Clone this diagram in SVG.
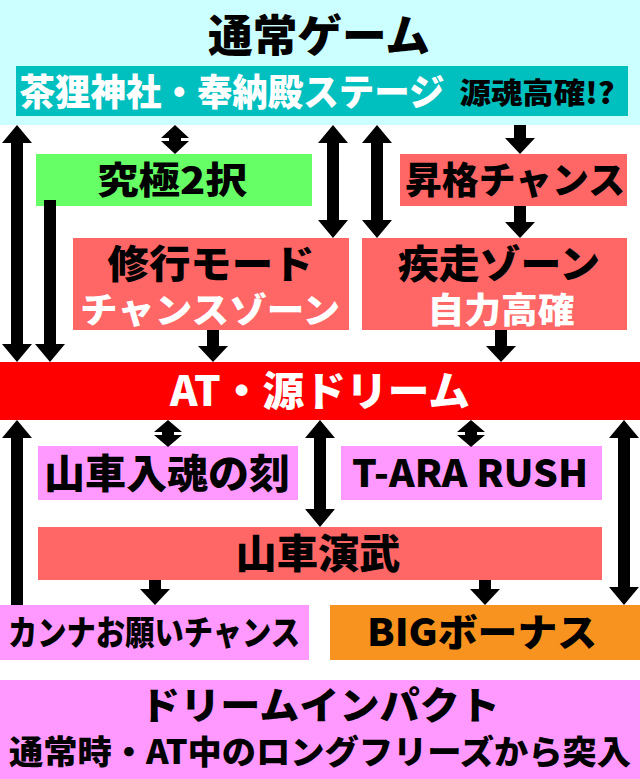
<svg xmlns="http://www.w3.org/2000/svg" width="640" height="779" viewBox="0 0 640 779">
<defs>
<style>
text{font-family:"Noto Sans CJK JP","Noto Sans",sans-serif;font-weight:900;text-anchor:middle}
.w{fill:#fff}.k{fill:#000}
</style>
</defs>
<rect width="640" height="779" fill="#fff"/>
<rect width="640" height="125" fill="#ccffff"/>
<g id="n-normal"><text x="319" y="52" font-size="44" class="k" textLength="222" lengthAdjust="spacingAndGlyphs">通常ゲーム</text></g>
<g id="n-stage"><rect x="16" y="66" width="612" height="50" fill="#00bfbf"/>
<text x="232" y="106" font-size="37" class="w" textLength="425" lengthAdjust="spacingAndGlyphs">茶狸神社・奉納殿ステージ</text>
<text x="537" y="104" font-size="29" class="k" textLength="155" lengthAdjust="spacingAndGlyphs">源魂高確!?</text></g>
<g id="n-kyuukyoku"><rect x="36" y="154" width="276" height="52" fill="#66ff66"/><text x="172" y="194" font-size="37" class="k" textLength="150" lengthAdjust="spacingAndGlyphs">究極2択</text></g>
<g id="n-shoukaku"><rect x="400" y="154" width="227" height="52" fill="#ff6666"/><text x="515" y="194" font-size="37" class="k" textLength="220" lengthAdjust="spacingAndGlyphs">昇格チャンス</text></g>
<g id="n-shugyou"><rect x="73" y="238" width="276" height="92" fill="#ff6666"/><text x="211" y="278" font-size="39" class="k" textLength="207" lengthAdjust="spacingAndGlyphs">修行モード</text><text x="210" y="323" font-size="35" class="w" textLength="260" lengthAdjust="spacingAndGlyphs">チャンスゾーン</text></g>
<g id="n-shissou"><rect x="362" y="238" width="265" height="92" fill="#ff6666"/><text x="499" y="278" font-size="39" class="k" textLength="202" lengthAdjust="spacingAndGlyphs">疾走ゾーン</text><text x="501" y="323" font-size="35" class="w" textLength="147" lengthAdjust="spacingAndGlyphs">自力高確</text></g>
<g id="n-at"><rect x="0" y="362" width="640" height="58" fill="#ff0000"/><text x="320" y="406" font-size="41" class="w" textLength="300" lengthAdjust="spacingAndGlyphs">AT・源ドリーム</text></g>
<g id="n-dashi"><rect x="38" y="446" width="260" height="54" fill="#ff99ff"/><text x="167" y="488" font-size="40" class="k" textLength="246" lengthAdjust="spacingAndGlyphs">山車入魂の刻</text></g>
<g id="n-tara"><rect x="341" y="446" width="261" height="54" fill="#ff99ff"/><text x="470" y="487" font-size="38" class="k" textLength="236" lengthAdjust="spacingAndGlyphs">T-ARA RUSH</text></g>
<g id="n-enbu"><rect x="38" y="527" width="564" height="53" fill="#ff6666"/><text x="318" y="568" font-size="40" class="k" textLength="165" lengthAdjust="spacingAndGlyphs">山車演武</text></g>
<g id="n-kanna"><rect x="0" y="605" width="309" height="55" fill="#ff99ff"/><text x="154" y="645" font-size="34" class="k" textLength="292" lengthAdjust="spacingAndGlyphs">カンナお願いチャンス</text></g>
<g id="n-big"><rect x="330" y="605" width="310" height="55" fill="#f7931e"/><text x="482" y="646" font-size="38" class="k" textLength="230" lengthAdjust="spacingAndGlyphs">BIGボーナス</text></g>
<g id="n-impact"><rect x="0" y="680" width="640" height="99" fill="#ff99ff"/><text x="320" y="719" font-size="38" class="k" textLength="360" lengthAdjust="spacingAndGlyphs">ドリームインパクト</text><text x="320" y="764" font-size="33" class="k" textLength="622" lengthAdjust="spacingAndGlyphs">通常時・AT中のロングフリーズから突入</text></g>
<g id="connectors" fill="#000">
<path d="M17,125L32,143L23,143L23,344L32,344L17,362L2,344L11,344L11,143L2,143Z"/>
<path d="M44,200L56,200L56,344L65,344L50,362L35,344L44,344Z"/>
<path d="M175,125L189,138L181,138L181,141L189,141L175,154L161,141L169,141L169,138L161,138Z"/>
<path d="M333,125L348,143L339,143L339,220L348,220L333,238L318,220L327,220L327,143L318,143Z"/>
<path d="M377,125L392,143L383,143L383,220L392,220L377,238L362,220L371,220L371,143L362,143Z"/>
<path d="M514,125L526,125L526,138L535,138L520,154L505,138L514,138Z"/>
<path d="M514,206L526,206L526,222L535,222L520,238L505,222L514,222Z"/>
<path d="M207,330L219,330L219,346L228,346L213,362L198,346L207,346Z"/>
<path d="M495,330L507,330L507,346L516,346L501,362L486,346L495,346Z"/>
<path d="M17,420L32,438L23,438L23,605L11,605L11,438L2,438Z"/>
<path d="M168,420L182,432L174,432L174,435L182,435L168,447L154,435L162,435L162,432L154,432Z"/>
<path d="M320,420L335,438L326,438L326,509L335,509L320,527L305,509L314,509L314,438L305,438Z"/>
<path d="M471,420L485,432L477,432L477,435L485,435L471,447L457,435L465,435L465,432L457,432Z"/>
<path d="M624,420L639,438L630,438L630,587L639,587L624,605L609,587L618,587L618,438L609,438Z"/>
<path d="M149,580L161,580L161,589L170,589L155,605L140,589L149,589Z"/>
<path d="M479,580L491,580L491,589L500,589L485,605L470,589L479,589Z"/>
</g>
</svg>
